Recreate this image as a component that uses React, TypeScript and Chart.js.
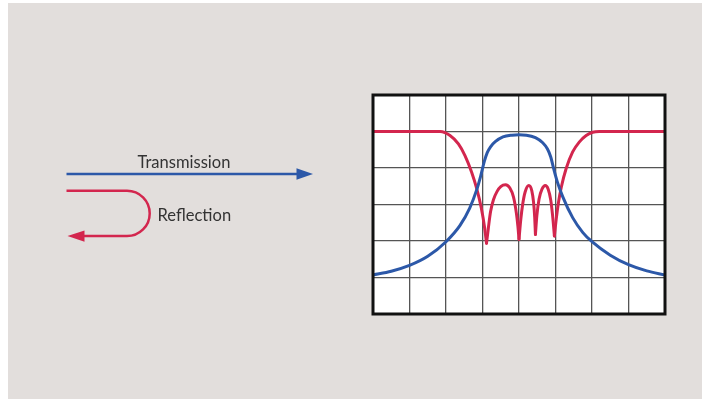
import React, { useEffect, useRef } from "react";
import { Chart, registerables } from "chart.js";

Chart.register(...registerables);

// Transmission (blue) curve
const blueX = [0, 0.5, 1.0, 1.5, 2.0, 2.38, 2.65, 2.84, 2.95, 3.05, 3.13, 3.22, 3.35, 3.56, 3.8, 4.0, 4.2, 4.45, 4.65, 4.78, 4.87, 4.95, 5.05, 5.2, 5.47, 5.75, 6.0, 6.5, 7.0, 7.5, 8.0];
const blueY = [1.07, 1.17, 1.33, 1.58, 1.98, 2.42, 2.9, 3.4, 3.78, 4.18, 4.42, 4.58, 4.72, 4.85, 4.9, 4.91, 4.9, 4.83, 4.69, 4.52, 4.3, 3.98, 3.62, 3.21, 2.64, 2.23, 1.98, 1.61, 1.35, 1.18, 1.07];

// Reflection (red) curve
const redX = [0, 1.0, 1.84, 2.11, 2.34, 2.52, 2.7, 2.84, 2.97, 3.06, 3.11, 3.16, 3.22, 3.3, 3.4, 3.5, 3.63, 3.75, 3.85, 3.93, 3.97, 4.0, 4.05, 4.1, 4.17, 4.27, 4.35, 4.4, 4.43, 4.45, 4.49, 4.55, 4.63, 4.72, 4.8, 4.87, 4.92, 4.97, 5.02, 5.08, 5.16, 5.29, 5.47, 5.65, 5.84, 6.02, 6.2, 7.0, 8.0];
const redY = [5.0, 5.0, 5.0, 4.89, 4.66, 4.34, 3.89, 3.44, 2.89, 2.35, 1.94, 2.35, 2.8, 3.13, 3.36, 3.49, 3.54, 3.45, 3.2, 2.75, 2.4, 2.05, 2.6, 3.0, 3.35, 3.52, 3.38, 3.05, 2.65, 2.18, 2.7, 3.15, 3.42, 3.52, 3.42, 3.12, 2.7, 2.14, 2.6, 3.05, 3.48, 3.98, 4.44, 4.71, 4.89, 4.98, 5.0, 5.0, 5.0];

const labels = ["Transmission", "Reflection"];
const xMax = 8;
const yMax = 6;

const BLUE = "#2c58a8";
const RED = "#d3264e";
const BG = "#e2dedc";

function splitAtDips(xs: number[], ys: number[]) {
  const cuts = [0];
  for (let i = 1; i < ys.length - 1; i++) {
    if (ys[i] < ys[i - 1] && ys[i] < ys[i + 1]) cuts.push(i);
  }
  cuts.push(ys.length - 1);
  const segs: { x: number; y: number }[][] = [];
  for (let k = 0; k < cuts.length - 1; k++) {
    const seg: { x: number; y: number }[] = [];
    for (let i = cuts[k]; i <= cuts[k + 1]; i++) seg.push({ x: xs[i], y: ys[i] });
    segs.push(seg);
  }
  return segs;
}

const decor = {
  id: "decor",
  beforeDraw(chart: any) {
    const { ctx, chartArea: a, width, height } = chart;
    ctx.save();
    ctx.fillStyle = "#ffffff";
    ctx.fillRect(0, 0, width, height);
    ctx.fillStyle = BG;
    ctx.fillRect(8, 3, width - 8, height - 3);
    ctx.fillStyle = "#ffffff";
    ctx.fillRect(a.left, a.top, a.right - a.left, a.bottom - a.top);
    ctx.restore();
  },
  afterDraw(chart: any) {
    const { ctx, chartArea: a } = chart;
    ctx.save();
    // frame
    ctx.strokeStyle = "#111111";
    ctx.lineWidth = 3;
    ctx.strokeRect(a.left, a.top, a.right - a.left, a.bottom - a.top);

    // transmission arrow
    ctx.strokeStyle = BLUE;
    ctx.fillStyle = BLUE;
    ctx.lineWidth = 2.5;
    ctx.beginPath();
    ctx.moveTo(66.5, 174);
    ctx.lineTo(298, 174);
    ctx.stroke();
    ctx.beginPath();
    ctx.moveTo(313, 174);
    ctx.lineTo(296.5, 168.3);
    ctx.lineTo(296.5, 179.7);
    ctx.closePath();
    ctx.fill();

    // reflection arrow
    ctx.strokeStyle = RED;
    ctx.fillStyle = RED;
    ctx.beginPath();
    ctx.moveTo(66.5, 190.7);
    ctx.lineTo(127, 190.7);
    ctx.arc(127, 213.4, 22.7, -Math.PI / 2, Math.PI / 2, false);
    ctx.lineTo(83, 236.1);
    ctx.stroke();
    ctx.beginPath();
    ctx.moveTo(67.5, 236.1);
    ctx.lineTo(84.5, 230.4);
    ctx.lineTo(84.5, 241.8);
    ctx.closePath();
    ctx.fill();

    // labels: size fitted so "Transmission" spans ~93px
    const family = 'Lato, "Liberation Sans", sans-serif';
    ctx.font = "100px " + family;
    const w100 = ctx.measureText(labels[0]).width;
    const size = Math.max(10, Math.min(22, (93 / w100) * 100));
    ctx.fillStyle = "#333333";
    ctx.font = size.toFixed(2) + "px " + family;
    ctx.textBaseline = "alphabetic";
    ctx.textAlign = "left";
    ctx.fillText(labels[0], 137.5, 168.3);
    ctx.fillText(labels[1], 157.5, 221);
    ctx.restore();
  },
};

export default function App() {
  const ref = useRef<HTMLCanvasElement | null>(null);
  useEffect(() => {
    document.body.style.margin = "0";
    const canvas = ref.current;
    if (!canvas) return;
    const redSegs = splitAtDips(redX, redY);
    const datasets: any[] = [
      {
        label: labels[0],
        data: blueX.map((x, i) => ({ x, y: blueY[i] })),
        borderColor: BLUE,
        borderWidth: 3,
        pointRadius: 0,
        fill: false,
        cubicInterpolationMode: "monotone",
        borderCapStyle: "round",
      },
      ...redSegs.map((seg) => ({
        label: labels[1],
        data: seg,
        borderColor: RED,
        borderWidth: 3,
        pointRadius: 0,
        fill: false,
        cubicInterpolationMode: "monotone",
        borderCapStyle: "round",
        borderJoinStyle: "round",
      })),
    ];
    const chart = new Chart(canvas, {
      type: "line",
      data: { datasets },
      options: {
        animation: false,
        responsive: false,
        devicePixelRatio: 1,
        layout: { padding: { left: 373, right: 37, top: 95, bottom: 85 } },
        plugins: { legend: { display: false }, tooltip: { enabled: false } },
        scales: {
          x: {
            type: "linear",
            min: 0,
            max: xMax,
            ticks: { display: false, stepSize: 1 },
            grid: { color: "#555555", lineWidth: 1.3, drawTicks: false },
            border: { display: false },
          },
          y: {
            type: "linear",
            min: 0,
            max: yMax,
            ticks: { display: false, stepSize: 1 },
            grid: { color: "#555555", lineWidth: 1.3, drawTicks: false },
            border: { display: false },
          },
        },
      },
      plugins: [decor],
    });
    return () => chart.destroy();
  }, []);
  return <canvas ref={ref} width={702} height={399} style={{ display: "block" }} />;
}
